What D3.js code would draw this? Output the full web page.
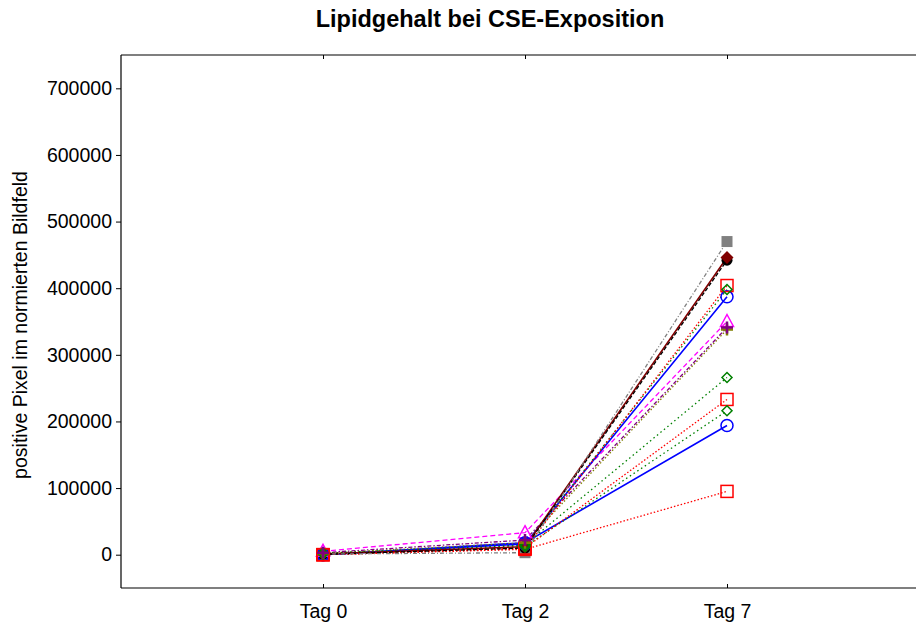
<!DOCTYPE html>
<html>
<head>
<meta charset="utf-8">
<script src="https://cdn.jsdelivr.net/npm/d3@7"></script>
<style>
  html, body { margin: 0; padding: 0; background: #fff; }
  svg { display: block; font-family: "Liberation Sans", Arial, sans-serif; }
</style>
</head>
<body>
<svg id="chart" width="916" height="623"></svg>
<script>
// Time points and axis ticks
const days = ["Tag 0", "Tag 2", "Tag 7"];
const yTicks = [0, 100000, 200000, 300000, 400000, 500000, 600000, 700000];

// One line per sample: positive pixels per normalised field at Tag 0, 2, 7
const sampleA = [1000, 3000, 470000];
const sampleB = [1000, 12000, 446000];
const sampleC = [500, 10000, 442000];
const sampleD = [0, 9000, 404000];
const sampleE = [2000, 14000, 398000];
const sampleF = [0, 16000, 387000];
const sampleG = [5000, 33000, 350000];
const sampleH = [3000, 22000, 341000];
const sampleI = [2000, 18000, 338000];
const sampleJ = [2000, 15000, 266000];
const sampleK = [0, 10000, 233000];
const sampleL = [1500, 12000, 216000];
const sampleM = [0, 18000, 194000];
const sampleN = [0, 8000, 95000];

// Styling per sample (colour, dash pattern, marker, marker layer)
const series = [
  { v: sampleN, color: "#ff0000", dash: "1.5,2", marker: "square", layer: 3 },
  { v: sampleM, color: "#0000ff", dash: null, marker: "circle", layer: 2 },
  { v: sampleL, color: "#008000", dash: "1.5,3", marker: "diamond", layer: 4 },
  { v: sampleK, color: "#ff0000", dash: "1.5,2", marker: "square", layer: 3 },
  { v: sampleJ, color: "#008000", dash: "1.5,3", marker: "diamond", layer: 4 },
  { v: sampleI, color: "#808000", dash: "1.5,2", marker: "plus", layer: 5 },
  { v: sampleH, color: "#800080", dash: "4,2,1.5,2", marker: "plus", layer: 6 },
  { v: sampleG, color: "#ff00ff", dash: "5,3", marker: "triangle", layer: 1 },
  { v: sampleF, color: "#0000ff", dash: null, marker: "circle", layer: 2 },
  { v: sampleE, color: "#008000", dash: "1.5,3", marker: "diamond", layer: 4 },
  { v: sampleD, color: "#ff0000", dash: "1.5,2", marker: "square", layer: 3 },
  { v: sampleB, color: "#800000", dash: null, marker: "diamondFilled", layer: 0.5 },
  { v: sampleC, color: "#000000", dash: "4,2", marker: "circleFilled", layer: 0.2 },
  { v: sampleA, color: "#808080", dash: "4,2,1,2", marker: "squareFilled", layer: 0 }
];

const svg = d3.select("#chart");
const plotLeft = 121, plotTop = 55, plotBottom = 588;

const x = d3.scaleLinear().domain([0, 4]).range([plotLeft, 929]);
const y = d3.scaleLinear().domain([-50000, 750000]).range([plotBottom, plotTop]);

// Title
svg.append("text")
  .attr("x", 490).attr("y", 27)
  .attr("text-anchor", "middle")
  .attr("font-size", 23.5).attr("font-weight", "bold")
  .text("Lipidgehalt bei CSE-Exposition");

// Y axis label
svg.append("text")
  .attr("transform", `translate(27,${(168 + 482) / 2}) rotate(-90)`)
  .attr("text-anchor", "middle")
  .attr("font-size", 19.5)
  .text("positive Pixel im normierten Bildfeld");

// Frame lines
const frame = svg.append("g").attr("stroke", "#000").attr("stroke-width", 1.2);
frame.append("line").attr("x1", plotLeft).attr("x2", 916).attr("y1", plotTop).attr("y2", plotTop);
frame.append("line").attr("x1", plotLeft).attr("x2", 916).attr("y1", plotBottom).attr("y2", plotBottom);
frame.append("line").attr("x1", plotLeft).attr("x2", plotLeft).attr("y1", plotTop).attr("y2", plotBottom);

// Y axis (outward ticks)
const yAxis = svg.append("g")
  .attr("transform", `translate(${plotLeft},0)`)
  .call(d3.axisLeft(y).tickValues(yTicks).tickSize(5).tickPadding(4).tickFormat(d3.format("d")));
yAxis.select(".domain").remove();
yAxis.selectAll("text").attr("font-size", 19.5).attr("font-family", "Liberation Sans, Arial, sans-serif").attr("fill", "#000");

// X axis (inward ticks on bottom and top)
const xPos = days.map((d, i) => i + 1);
const xAxis = svg.append("g")
  .attr("transform", `translate(0,${plotBottom})`)
  .call(d3.axisBottom(x).tickValues(xPos).tickSize(-4).tickPadding(16).tickFormat((d) => days[d - 1]));
xAxis.select(".domain").remove();
xAxis.selectAll("text").attr("font-size", 19.5).attr("font-family", "Liberation Sans, Arial, sans-serif").attr("fill", "#000");

const xTop = svg.append("g")
  .attr("transform", `translate(0,${plotTop})`)
  .call(d3.axisTop(x).tickValues(xPos).tickSize(-4).tickFormat(""));
xTop.select(".domain").remove();

// Lines
const line = d3.line().x((d, i) => x(i + 1)).y((d) => y(d));
const plot = svg.append("g");
series.forEach((s) => {
  plot.append("path")
    .datum(s.v)
    .attr("d", line)
    .attr("fill", "none")
    .attr("stroke", s.color)
    .attr("stroke-width", s.dash ? 1.3 : 1.6)
    .attr("stroke-dasharray", s.dash);
});

// Markers
function drawMarker(g, type, color, cx, cy) {
  const m = g.append("g").attr("transform", `translate(${cx},${cy})`);
  switch (type) {
    case "square":
      m.append("rect").attr("x", -6).attr("y", -6).attr("width", 12).attr("height", 12)
        .attr("fill", "none").attr("stroke", color).attr("stroke-width", 1.5); break;
    case "squareFilled":
      m.append("rect").attr("x", -5.5).attr("y", -5.5).attr("width", 11).attr("height", 11)
        .attr("fill", color); break;
    case "circle":
      m.append("circle").attr("r", 6).attr("fill", "none").attr("stroke", color).attr("stroke-width", 1.5); break;
    case "circleFilled":
      m.append("circle").attr("r", 5.5).attr("fill", color); break;
    case "diamond":
      m.append("path").attr("d", "M0,-5L5,0L0,5L-5,0Z")
        .attr("fill", "none").attr("stroke", color).attr("stroke-width", 1.5); break;
    case "diamondFilled":
      m.append("path").attr("d", "M0,-6.5L6.5,0L0,6.5L-6.5,0Z").attr("fill", color); break;
    case "triangle":
      m.append("path").attr("d", "M0,-7L6.5,5L-6.5,5Z")
        .attr("fill", "none").attr("stroke", color).attr("stroke-width", 1.5); break;
    case "plus":
      m.append("path").attr("d", "M-6,0H6M0,-6V6").attr("stroke", color).attr("stroke-width", 2.5); break;
  }
}
const markers = svg.append("g");
series.slice().sort((a, b) => a.layer - b.layer).forEach((s) => {
  s.v.forEach((val, i) => drawMarker(markers, s.marker, s.color, x(i + 1), y(val)));
});
</script>
</body>
</html>
